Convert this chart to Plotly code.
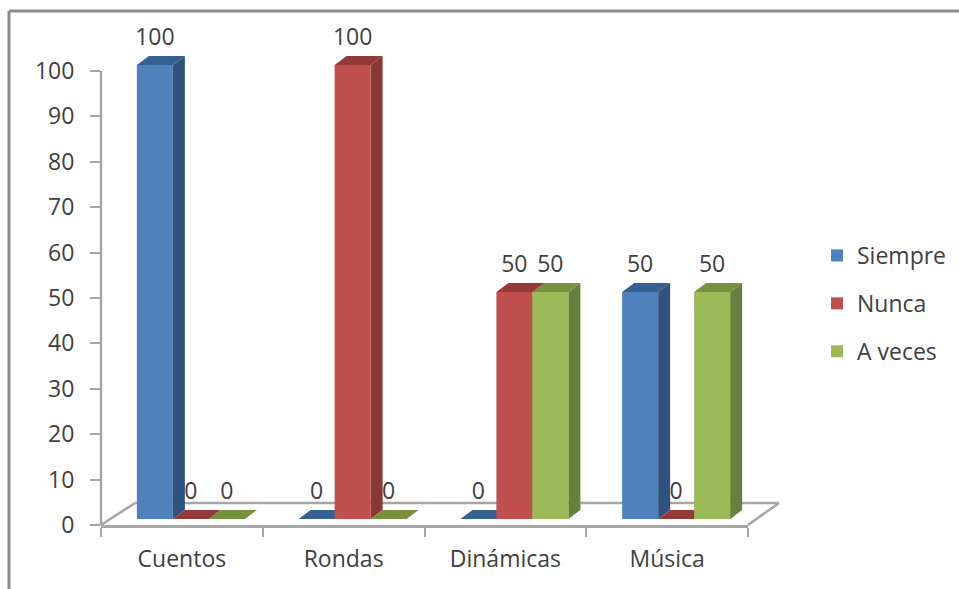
import plotly.graph_objects as go

categories = ["Cuentos", "Rondas", "Dinámicas", "Música"]
series_names = ["Siempre", "Nunca", "A veces"]
siempre = [100, 0, 0, 50]
nunca = [0, 100, 50, 0]
a_veces = [0, 0, 50, 50]
y_ticks = [0, 10, 20, 30, 40, 50, 60, 70, 80, 90, 100]

front = ["#4F81BD", "#C0504D", "#9BBB59"]
side = ["#2F527E", "#8A3735", "#67803B"]
top = ["#376092", "#953A38", "#76923C"]
TXT = "#404040"
FONT = "Open Sans"
FS = 23

W, H = 959, 589
L, R, T, B = 101, 748, 71, 525
PT = 20  # top of the plotting area, above the 100 tick, leaves room for the 3-D tops
ux = (R - L) / 4
uy = (B - T) / 100
ymax = (B - PT) / uy
bar_w = 36 / ux
shift = 9 / ux
base = 6 / uy
dx, dy = 12 / ux, 9 / uy

def px(x):
    return (x - L) / (R - L)

def py(y):
    return (B - y) / (B - PT)

fig = go.Figure()
values = [siempre, nunca, a_veces]

# side and top faces of every 3-D bar (lower layer)
for k, vals in enumerate(values):
    off = (k - 1.5) * bar_w + shift
    for i, v in enumerate(vals):
        xl, xr = i + off, i + off + bar_w
        yb, yt = base, base + v
        if v > 0:
            fig.add_trace(go.Scatter(
                x=[xr, xr + dx, xr + dx, xr, xr], y=[yb, yb + dy, yt + dy, yt, yb],
                mode="lines", fill="toself", fillcolor=side[k], line=dict(width=0),
                showlegend=False, hoverinfo="skip", cliponaxis=False))
        fig.add_trace(go.Scatter(
            x=[xl, xl + dx, xr + dx, xr, xl], y=[yt, yt + dy, yt + dy, yt, yt],
            mode="lines", fill="toself", fillcolor=top[k], line=dict(width=0),
            showlegend=False, hoverinfo="skip", cliponaxis=False))

# front faces (upper layer)
for k, vals in enumerate(values):
    fig.add_trace(go.Bar(
        x=list(range(len(categories))), y=vals, base=base, width=bar_w,
        offset=(k - 1.5) * bar_w + shift, name=series_names[k],
        marker=dict(color=front[k], line=dict(width=0)), cliponaxis=False,
        legendgroup=series_names[k], xaxis="x2", yaxis="y2",
        customdata=categories, hovertemplate="%{customdata}: %{y}<extra>" + series_names[k] + "</extra>"))

# data labels
for k, vals in enumerate(values):
    off = (k - 1) * bar_w + shift
    fig.add_trace(go.Scatter(
        x=[i + off for i in range(len(vals))], y=[v + base + 25.5 / uy for v in vals],
        mode="text", text=[str(v) for v in vals], textposition="middle center",
        textfont=dict(family=FONT, size=FS, color=TXT), showlegend=False,
        hoverinfo="skip", cliponaxis=False, xaxis="x2", yaxis="y2"))

line = dict(color="#A6A6A6", width=2.5)
frame = dict(color="#8C8C8C", width=3)
shapes = [
    dict(type="line", xref="paper", yref="paper", x0=px(L), y0=py(B), x1=px(L), y1=py(T), line=line, layer="below"),
    dict(type="line", xref="paper", yref="paper", x0=px(L), y0=py(B), x1=px(135), y1=py(503), line=line, layer="below"),
    dict(type="line", xref="paper", yref="paper", x0=px(135), y0=py(503), x1=px(779), y1=py(503), line=line, layer="below"),
    dict(type="line", xref="paper", yref="paper", x0=px(R), y0=py(B), x1=px(779), y1=py(503), line=line, layer="below"),
    dict(type="line", xref="paper", yref="paper", x0=px(9), y0=py(11), x1=px(959), y1=py(11), line=frame, layer="below"),
    dict(type="line", xref="paper", yref="paper", x0=px(9), y0=py(11), x1=px(9), y1=py(589), line=frame, layer="below"),
]

axis_font = dict(family=FONT, size=FS, color=TXT)
fig.update_layout(
    width=W, height=H, margin=dict(l=L, r=W - R, t=PT, b=H - B, pad=0, autoexpand=False),
    paper_bgcolor="white", plot_bgcolor="rgba(0,0,0,0)", barmode="overlay",
    font=axis_font, shapes=shapes,
    xaxis=dict(range=[-0.5, 3.5], tickmode="array", tickvals=list(range(4)), ticktext=categories,
               ticks="", showgrid=False, zeroline=False, showline=True, linecolor="#A6A6A6", linewidth=2.5,
               tickfont=axis_font, ticklabelstandoff=12,
               minor=dict(tickmode="array", tickvals=[-0.5, 0.5, 1.5, 2.5, 3.5], ticks="outside", ticklen=9,
                          tickcolor="#A6A6A6", tickwidth=2, showgrid=False)),
    yaxis=dict(range=[0, ymax], tickmode="array", tickvals=y_ticks, ticks="outside", ticklen=10,
               tickcolor="#A6A6A6", tickwidth=2, showgrid=False, zeroline=False, showline=False,
               tickfont=axis_font, ticklabelstandoff=11),
    xaxis2=dict(range=[-0.5, 3.5], overlaying="x", visible=False),
    yaxis2=dict(range=[0, ymax], overlaying="y", visible=False),
    legend=dict(x=px(817), y=py(234), xanchor="left", yanchor="top", tracegroupgap=15,
                font=axis_font, bgcolor="rgba(0,0,0,0)"),
)
fig.write_html("out.html", config={"displayModeBar": False}, post_script="document.body.style.margin='0';")
